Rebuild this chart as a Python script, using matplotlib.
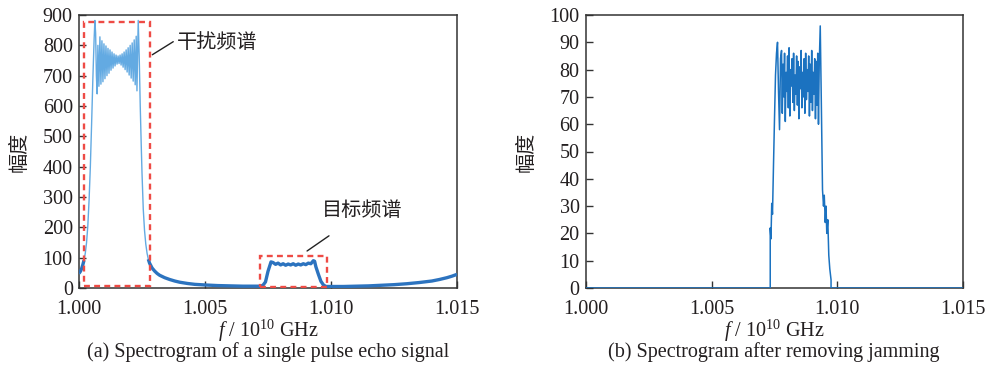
import numpy as np
import matplotlib
matplotlib.use("Agg")
import matplotlib.pyplot as plt
from matplotlib.patches import Rectangle

plt.rcParams['font.family'] = ['Liberation Serif', 'Noto Sans CJK SC', 'DejaVu Sans']
plt.rcParams['mathtext.fontset'] = 'custom'
plt.rcParams['mathtext.rm'] = 'Liberation Serif'
plt.rcParams['mathtext.it'] = 'Liberation Serif:italic'

# ---------------- data: (a) spectrum of single pulse echo ----------------
freq_a = [1.00000, 1.00005, 1.00010, 1.00015, 1.00020, 1.00025, 1.00030, 1.00035,
          1.00040, 1.00045, 1.00050, 1.00055, 1.00060, 1.00063, 1.00066, 1.00069,
          1.00072,
          1.00075, 1.00079, 1.00083, 1.00087, 1.00091, 1.00095, 1.00099, 1.00103,
          1.00107, 1.00111, 1.00115, 1.00119, 1.00123, 1.00127, 1.00131, 1.00135,
          1.00139, 1.00143, 1.00147, 1.00151, 1.00155, 1.00159, 1.00163, 1.00167,
          1.00171, 1.00175, 1.00179, 1.00183, 1.00187, 1.00191, 1.00195, 1.00199,
          1.00203, 1.00207, 1.00211, 1.00215, 1.00219, 1.00223, 1.00227, 1.00230,
          1.00235, 1.00239, 1.00243, 1.00247, 1.00250, 1.00255, 1.00260, 1.00265,
          1.00270, 1.00275, 1.00280, 1.00290, 1.00300, 1.00310, 1.00320, 1.00340,
          1.00360, 1.00380, 1.00400, 1.00430, 1.00460, 1.00500, 1.00550, 1.00600,
          1.00650, 1.00700, 1.00720, 1.00730, 1.00740, 1.00750, 1.00762, 1.00770,
          1.00780, 1.00790, 1.00800, 1.00810, 1.00820, 1.00830, 1.00840, 1.00850,
          1.00860, 1.00870, 1.00880, 1.00890, 1.00900, 1.00910, 1.00920, 1.00930,
          1.00935, 1.00940, 1.00950, 1.00960, 1.00970, 1.00980, 1.01000, 1.01050,
          1.01100, 1.01150, 1.01200, 1.01250, 1.01300, 1.01350, 1.01400, 1.01430,
          1.01460, 1.01480, 1.01500]
amp_a = [48, 54, 63, 76, 92, 115, 150, 205,
         290, 400, 540, 690, 820, 882, 840, 700,
         640,
         800, 665, 828, 672, 815, 680, 805, 690,
         798, 700, 790, 708, 785, 718, 778, 725,
         772, 732, 768, 738, 765, 740, 768, 735,
         772, 728, 778, 720, 785, 712, 792, 702,
         800, 692, 808, 682, 818, 670, 830, 650,
         882, 760, 600, 470, 380, 260, 190, 145,
         115, 95, 82, 66, 56, 48, 42, 34,
         28, 23, 19, 15, 12, 10, 8, 7,
         6, 6, 6, 9, 20, 55, 86, 84,
         78, 82, 76, 80, 75, 79, 76, 80,
         75, 79, 76, 80, 77, 82, 80, 90,
         88, 70, 45, 22, 10, 5, 5, 5,
         6, 7, 9, 11, 14, 18, 23, 28,
         34, 39, 45]

# ---------------- data: (b) spectrum after removing jamming ----------------
freq_b = [1.00000, 1.00733, 1.00733, 1.00736, 1.00739, 1.00742, 1.00746, 1.00750,
          1.00754, 1.00758, 1.00762, 1.00766, 1.00770, 1.00774,
          1.00778, 1.00781, 1.00784, 1.00787, 1.00790, 1.00793, 1.00796, 1.00799,
          1.00802, 1.00805, 1.00808, 1.00811, 1.00814, 1.00817, 1.00820, 1.00823,
          1.00826, 1.00829, 1.00832, 1.00835, 1.00838, 1.00841, 1.00844, 1.00847,
          1.00850, 1.00853, 1.00856, 1.00859, 1.00862, 1.00865, 1.00868, 1.00871,
          1.00874, 1.00877, 1.00880, 1.00883, 1.00886, 1.00889, 1.00892, 1.00895,
          1.00898, 1.00901, 1.00904, 1.00907, 1.00910, 1.00913, 1.00916, 1.00919,
          1.00922, 1.00925, 1.00928, 1.00932, 1.00936, 1.00941, 1.00945, 1.00948,
          1.00952, 1.00955, 1.00958, 1.00962, 1.00966, 1.00970, 1.00975, 1.00975,
          1.01500]
amp_b = [0, 0, 22, 18, 31, 27, 45, 62,
         78, 86, 90, 72, 58, 84,
         87, 64, 82, 70, 86, 61, 79, 72,
         85, 66, 88, 63, 80, 74, 84, 68,
         86, 65, 78, 71, 85, 67, 83, 62,
         81, 73, 87, 66, 79, 70, 84, 64,
         86, 69, 80, 72, 85, 63, 82, 68,
         87, 65, 79, 71, 84, 62, 83, 67,
         86, 60, 82, 96, 70, 36, 30, 34,
         24, 30, 20, 25, 12, 7, 3, 0,
         0]

x_ticks = [1.000, 1.005, 1.010, 1.015]
y_ticks_a = [0, 100, 200, 300, 400, 500, 600, 700, 800, 900]
y_ticks_b = [0, 10, 20, 30, 40, 50, 60, 70, 80, 90, 100]

# boxes (x0, x1, y0, y1)
jam_box = (1.00020, 1.00282, 7, 877)
tgt_box = (1.00718, 1.00984, 3, 105)

captions = ["(a) Spectrogram of a single pulse echo signal",
            "(b) Spectrogram after removing jamming"]

# ---------------- figure ----------------
fig = plt.figure(figsize=(9.99, 3.67), dpi=100)
W, H = 999, 367
axA = fig.add_axes([79 / W, (H - 288) / H, (457 - 79) / W, (288 - 15) / H])
axB = fig.add_axes([586 / W, (H - 288) / H, (963 - 586) / W, (288 - 15) / H])

TXT = '#231f20'
CJK = ['Noto Sans CJK SC', 'DejaVu Sans']

fa = np.array(freq_a)
aa = np.array(amp_a, dtype=float)
axA.plot(fa, aa, color='#63aae2', lw=1.0, zorder=3)
low = np.ma.masked_where(aa > 110, aa)
axA.plot(fa, low, color='#2c73bf', lw=2.4, solid_capstyle='butt', zorder=4)

axB.plot(freq_b, amp_b, color='#1b72c0', lw=1.1, zorder=3)

for ax, yt, ylim in [(axA, y_ticks_a, 900), (axB, y_ticks_b, 100)]:
    ax.set_xlim(1.000, 1.015)
    ax.set_ylim(0, ylim)
    ax.set_xticks(x_ticks)
    ax.set_xticklabels([f"{v:.3f}" for v in x_ticks])
    ax.set_yticks(yt)
    ax.tick_params(direction='in', length=5, width=1.0, color='#333333',
                   labelsize=14.5, labelcolor=TXT)
    ax.tick_params(axis='x', pad=9)
    ax.tick_params(axis='y', pad=4.5)
    for s in ax.spines.values():
        s.set_color('#333333')
        s.set_linewidth(1.1)
    ax.set_xlabel(r'$f$ / 10$^{10}$ GHz', fontsize=14.5, color=TXT, labelpad=-1)
    ax.set_ylabel('幅度', family=CJK, fontsize=14.5, color=TXT, labelpad=9,
                  fontweight='light')

# red dashed boxes
for (x0, x1, y0, y1) in [jam_box, tgt_box]:
    axA.add_patch(Rectangle((x0, y0), x1 - x0, y1 - y0, fill=False,
                            ec='#ee4b45', lw=1.7, ls=(0, (2.5, 1.8)), zorder=5))

# annotation leader lines and texts
axA.annotate('', xy=(1.00291, 769), xytext=(1.00374, 812),
             arrowprops=dict(arrowstyle='-', color='#222222', lw=1.0,
                             shrinkA=0, shrinkB=0))
axA.text(1.00389, 808, '干扰频谱', family=CJK, fontsize=14.5, color=TXT,
         va='center', ha='left', fontweight='light')
axA.annotate('', xy=(1.00905, 122), xytext=(1.00992, 172),
             arrowprops=dict(arrowstyle='-', color='#222222', lw=1.0,
                             shrinkA=0, shrinkB=0))
axA.text(1.01123, 257, '目标频谱', family=CJK, fontsize=14.5, color=TXT,
         va='center', ha='center', fontweight='light')

fig.text(268 / W, 1 - 352 / H, captions[0], ha='center', va='center',
         fontsize=14.5, color=TXT)
fig.text(774 / W, 1 - 352 / H, captions[1], ha='center', va='center',
         fontsize=14.5, color=TXT)

fig.savefig('out.png', dpi=100)
